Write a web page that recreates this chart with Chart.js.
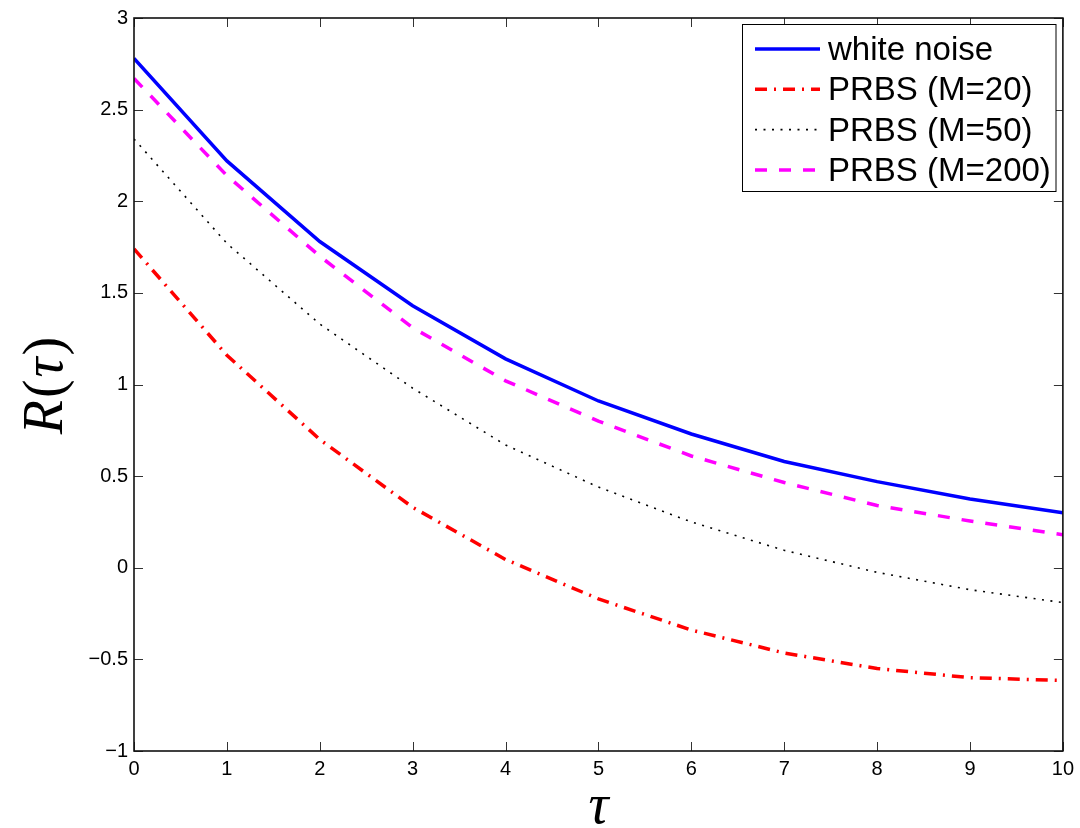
<!DOCTYPE html>
<html>
<head>
<meta charset="utf-8">
<script src="https://cdn.jsdelivr.net/npm/chart.js@4/dist/chart.umd.min.js"></script>
<style>
  html, body { margin: 0; padding: 0; background: #fff; }
  #wrap { width: 1080px; height: 828px; }
</style>
</head>
<body>
<div id="wrap"><canvas id="corrChart" width="1080" height="828"></canvas></div>
<script>
const tau = [0, 1, 2, 3, 4, 5, 6, 7, 8, 9, 10];
const whiteNoise = [2.78, 2.22, 1.78, 1.43, 1.14, 0.91, 0.73, 0.58, 0.47, 0.375, 0.30];
const prbs20 = [1.74, 1.16, 0.70, 0.33, 0.045, -0.17, -0.34, -0.465, -0.55, -0.60, -0.615];
const prbs50 = [2.34, 1.77, 1.33, 0.98, 0.67, 0.44, 0.25, 0.095, -0.025, -0.12, -0.19];
const prbs200 = [2.67, 2.14, 1.70, 1.31, 1.02, 0.80, 0.61, 0.465, 0.34, 0.255, 0.18];
const seriesNames = ['white noise', 'PRBS (M=20)', 'PRBS (M=50)', 'PRBS (M=200)'];
const xTicks = [0, 1, 2, 3, 4, 5, 6, 7, 8, 9, 10];
const yTicks = [-1, -0.5, 0, 0.5, 1, 1.5, 2, 2.5, 3];

const tickFont = { family: "'Liberation Sans', Arial, sans-serif", size: 20 };

function toPoints(vals) {
    return tau.map((t, i) => ({ x: t, y: vals[i] }));
}

// styles per series (same order as seriesNames)
const styles = [
    { color: '#0000ff', width: 3.5, dash: [] },
    { color: '#ff0000', width: 3.5, dash: [12, 7, 2, 7] },
    { color: '#000000', width: 1.6, dash: [2, 6.5] },
    { color: '#ff00ff', width: 3.5, dash: [12, 12] }
];

// box, inner ticks, legend and axis titles (MATLAB look)
const matlabFrame = {
    id: 'matlabFrame',
    afterDraw(chart) {
        const ctx = chart.ctx;
        const a = chart.chartArea;
        const xs = chart.scales.x;
        const ys = chart.scales.y;
        ctx.save();

        // inner ticks
        ctx.strokeStyle = '#333';
        ctx.lineWidth = 1;
        ctx.setLineDash([]);
        ctx.beginPath();
        xTicks.forEach(v => {
            const px = Math.round(xs.getPixelForValue(v)) + 0.5;
            ctx.moveTo(px, a.bottom); ctx.lineTo(px, a.bottom - 9);
            ctx.moveTo(px, a.top); ctx.lineTo(px, a.top + 9);
        });
        yTicks.forEach(v => {
            const py = Math.round(ys.getPixelForValue(v)) + 0.5;
            ctx.moveTo(a.left, py); ctx.lineTo(a.left + 9, py);
            ctx.moveTo(a.right, py); ctx.lineTo(a.right - 9, py);
        });
        ctx.stroke();

        // box
        ctx.strokeStyle = '#111';
        ctx.lineWidth = 1.6;
        ctx.strokeRect(a.left, a.top, a.right - a.left, a.bottom - a.top);

        // legend
        const lx = 742.5, ly = 24.5, lw = 313.5, lh = 167;
        ctx.fillStyle = '#fff';
        ctx.fillRect(lx, ly, lw, lh);
        ctx.strokeStyle = '#000';
        ctx.lineWidth = 1;
        ctx.strokeRect(lx, ly, lw, lh);
        ctx.font = "33px 'Liberation Sans', Arial, sans-serif";
        ctx.textBaseline = 'alphabetic';
        ctx.textAlign = 'left';
        seriesNames.forEach((name, i) => {
            const base = 60 + i * 40.3;
            const st = styles[i];
            ctx.strokeStyle = st.color;
            ctx.lineWidth = st.width;
            ctx.setLineDash(st.dash);
            ctx.beginPath();
            ctx.moveTo(755, base - 11);
            ctx.lineTo(820, base - 11);
            ctx.stroke();
            ctx.setLineDash([]);
            ctx.fillStyle = '#000';
            ctx.fillText(name, 828, base);
        });

        // axis titles
        const serif = "'Liberation Serif', 'Times New Roman', serif";
        ctx.fillStyle = '#000';
        ctx.textAlign = 'center';
        ctx.font = 'italic 56px ' + serif;
        ctx.fillText('\u03C4', (a.left + a.right) / 2, 823);

        const parts = [['R', true], ['(', false], ['\u03C4', true], [')', false]];
        let total = 0;
        parts.forEach(p => {
            ctx.font = (p[1] ? 'italic ' : '') + '56px ' + serif;
            total += ctx.measureText(p[0]).width + 2;
        });
        ctx.translate(62, (a.top + a.bottom) / 2);
        ctx.rotate(-Math.PI / 2);
        ctx.textAlign = 'left';
        let cx = -total / 2;
        parts.forEach(p => {
            ctx.font = (p[1] ? 'italic ' : '') + '56px ' + serif;
            ctx.fillText(p[0], cx, 0);
            cx += ctx.measureText(p[0]).width + 2;
        });
        ctx.restore();
    }
};

const datasets = [whiteNoise, prbs20, prbs50, prbs200].map((vals, i) => ({
    label: seriesNames[i],
    data: toPoints(vals),
    borderColor: styles[i].color,
    backgroundColor: styles[i].color,
    borderWidth: styles[i].width,
    borderDash: styles[i].dash,
    pointRadius: 0,
    tension: 0,
    fill: false
}));

new Chart(document.getElementById('corrChart').getContext('2d'), {
    type: 'line',
    data: { datasets: datasets },
    options: {
        responsive: false,
        animation: false,
        devicePixelRatio: 1,
        layout: { padding: { top: 15, right: 13, bottom: 0, left: 0 } },
        plugins: {
            legend: { display: false },
            tooltip: { enabled: false }
        },
        scales: {
            x: {
                type: 'linear',
                min: 0,
                max: 10,
                afterFit: s => { s.height = 77; },
                afterBuildTicks: s => { s.ticks = xTicks.map(v => ({ value: v })); },
                ticks: { color: '#000', font: tickFont, padding: 6, maxRotation: 0 },
                grid: { display: false, drawTicks: false },
                border: { display: false }
            },
            y: {
                type: 'linear',
                min: -1,
                max: 3,
                afterFit: s => { s.width = 134; },
                afterBuildTicks: s => { s.ticks = yTicks.map(v => ({ value: v })); },
                ticks: {
                    color: '#000',
                    font: tickFont,
                    padding: 6,
                    callback: v => String(v).replace('-', '\u2212')
                },
                grid: { display: false, drawTicks: false },
                border: { display: false }
            }
        }
    },
    plugins: [matlabFrame]
});
</script>
</body>
</html>
